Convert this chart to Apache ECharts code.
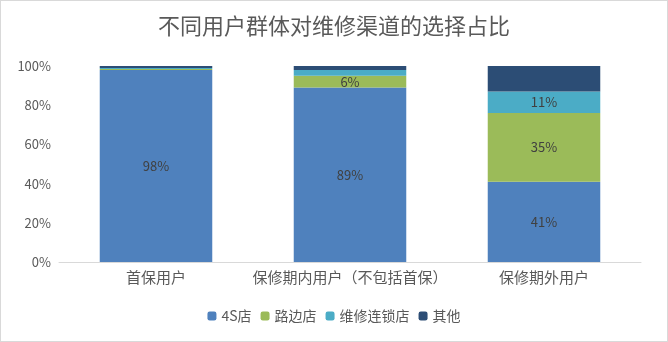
<!DOCTYPE html>
<html><head><meta charset="utf-8">
<script src="https://cdn.jsdelivr.net/npm/echarts@6/dist/echarts.min.js"></script>
<style>html,body{margin:0;padding:0;background:#fff}#c{width:666px;height:340px;border:1px solid #d9d9d9}</style>
</head><body><div id="c"></div>
<script>
const categories = ['首保用户', '保修期内用户（不包括首保）', '保修期外用户'];
const s4S = [98, 89, 41];
const sRoad = [0.5, 6, 35];
const sChain = [0.5, 3, 11];
const sOther = [1, 2, 13];
const yTicks = [0, 20, 40, 60, 80, 100];

const chart = echarts.init(document.getElementById('c'));
const font = '"Noto Sans CJK SC", "Microsoft YaHei", sans-serif';
function lbl(show) {
  return {
    show, position: 'inside', color: '#404040', fontSize: 13, fontFamily: font,
    formatter: p => p.value >= 5 ? Math.round(p.value) + '%' : ''
  };
}
function mk(name, data, color, show) {
  return { name, type: 'bar', stack: 'a', data, barCategoryGap: '42%',
    itemStyle: { color }, label: lbl(show), labelLayout: { hideOverlap: false } };
}
chart.setOption({
  animation: false,
  textStyle: { fontFamily: font },
  title: { text: '不同用户群体对维修渠道的选择占比', left: 'center', top: 9,
    textStyle: { fontSize: 22, fontWeight: 'normal', color: '#595959', fontFamily: font } },
  legend: { bottom: 13, itemWidth: 9, itemHeight: 9, itemGap: 9,
    textStyle: { fontSize: 14, color: '#595959', fontFamily: font },
    data: ['4S店', '路边店', '维修连锁店', '其他'] },
  grid: { left: 58, right: 26, top: 65, bottom: 79, containLabel: false },
  xAxis: { type: 'category', data: categories,
    axisLine: { lineStyle: { color: '#d9d9d9' } }, axisTick: { show: false },
    axisLabel: { fontSize: 15, color: '#595959', margin: 8, interval: 0 } },
  yAxis: { type: 'value', min: 0, max: 100, interval: 20,
    axisLabel: { formatter: '{value}%', fontSize: 13, color: '#595959' },
    splitLine: { show: false }, axisLine: { show: false }, axisTick: { show: false } },
  series: [
    mk('4S店', s4S, '#4f81bd', true),
    mk('路边店', sRoad, '#9bbb59', true),
    mk('维修连锁店', sChain, '#4bacc6', true),
    mk('其他', sOther, '#2c4d75', false)
  ]
});
</script></body></html>
